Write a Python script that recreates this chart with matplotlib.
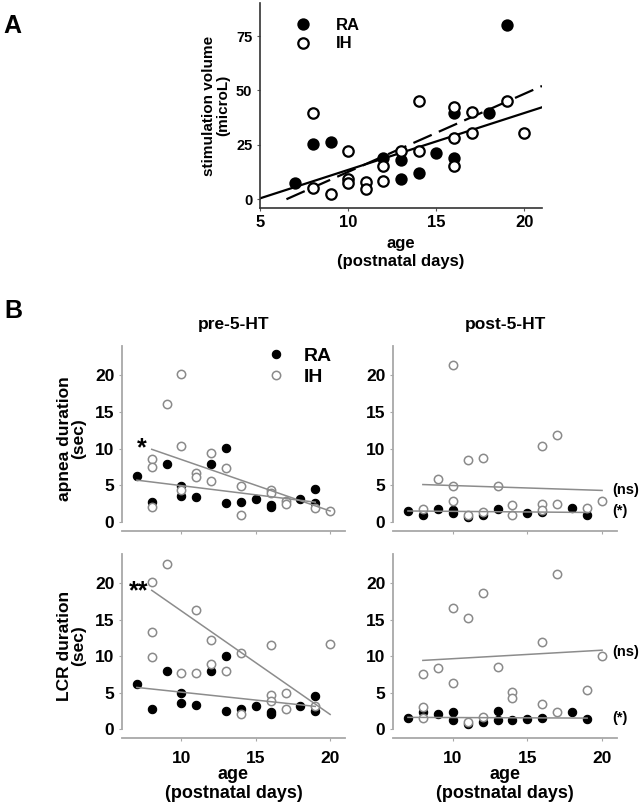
import matplotlib
matplotlib.use('Agg')
import matplotlib.pyplot as plt

plt.rcParams['font.family'] = ['Liberation Sans', 'DejaVu Sans']
plt.rcParams['font.weight'] = 'bold'
plt.rcParams['axes.labelweight'] = 'bold'

# ---------------- Panel A data: stimulation volume vs age ----------------
A_RA_age = [7, 8, 9, 12, 13, 13, 14, 15, 16, 16, 18, 19]
A_RA_vol = [7.5, 25.3, 26.1, 18.7, 17.9, 9.0, 12.1, 21.0, 39.7, 18.7, 39.7, 80.1]
A_IH_age = [8, 8, 9, 10, 10, 10, 11, 11, 12, 12, 13, 14, 14, 16, 16, 16, 17, 17, 19, 20]
A_IH_vol = [39.7, 4.9, 2.3, 22.2, 9.2, 7.2, 8.0, 4.6, 15.2, 8.3, 22.2, 45.1, 22.2,
            42.2, 28.2, 15.2, 39.9, 30.5, 45.1, 30.2]
A_RA_fit_x = [5, 21]
A_RA_fit_y = [0.3, 42.2]
A_IH_fit_x = [6.5, 21]
A_IH_fit_y = [-0.1, 52.0]
A_xticks = [5, 10, 15, 20]
A_yticks = [0, 25, 50, 75]

# ---------------- Panel B data ----------------
# apnea duration, pre-5-HT
ap_pre_RA_age = [7, 8, 9, 10, 10, 11, 12, 13, 13, 14, 15, 16, 16, 18, 19, 19]
ap_pre_RA_val = [6.2, 2.7, 7.9, 4.9, 3.5, 3.4, 7.9, 10.1, 2.6, 2.7, 3.1, 2.3, 2.0, 3.1, 4.5, 2.6]
ap_pre_IH_age = [8, 8, 8, 9, 10, 10, 10, 11, 11, 12, 12, 13, 14, 14, 16, 16, 17, 17, 19, 20]
ap_pre_IH_val = [8.6, 7.5, 2.1, 16.1, 20.2, 10.4, 4.3, 6.7, 6.1, 9.4, 5.6, 7.4, 4.9, 1.0,
                 4.4, 3.9, 2.9, 2.5, 1.9, 1.5]
ap_pre_RA_fit = ([7, 19], [5.7, 2.7])
ap_pre_IH_fit = ([8, 20], [9.9, 1.5])

# apnea duration, post-5-HT
ap_post_RA_age = [7, 8, 9, 10, 10, 11, 12, 13, 15, 16, 18, 19]
ap_post_RA_val = [1.5, 0.9, 1.8, 1.7, 1.2, 0.66, 1.0, 1.8, 1.2, 1.35, 1.9, 1.0]
ap_post_IH_age = [8, 9, 10, 10, 10, 11, 11, 12, 12, 13, 14, 14, 16, 16, 16, 17, 17, 19, 20]
ap_post_IH_val = [1.8, 5.8, 21.4, 4.9, 2.8, 8.5, 0.9, 8.7, 1.4, 4.9, 2.3, 1.0,
                  10.4, 2.5, 1.7, 11.9, 2.4, 1.9, 2.8]
ap_post_RA_fit = ([7, 19], [1.5, 1.3])
ap_post_IH_fit = ([8, 20], [5.1, 4.3])

# LCR duration, pre-5-HT
lcr_pre_RA_age = [7, 8, 9, 10, 10, 11, 12, 13, 13, 14, 15, 16, 16, 18, 19, 19]
lcr_pre_RA_val = [6.2, 2.8, 7.9, 4.9, 3.5, 3.3, 7.95, 10.0, 2.5, 2.7, 3.1, 2.4, 2.1, 3.1, 4.5, 2.5]
lcr_pre_IH_age = [8, 8, 8, 9, 10, 11, 11, 12, 12, 13, 14, 14, 16, 16, 16, 17, 17, 19, 20]
lcr_pre_IH_val = [20.1, 13.3, 9.9, 22.6, 7.7, 16.3, 7.7, 12.2, 8.9, 7.95, 10.4, 2.0,
                  11.5, 4.7, 3.9, 4.9, 2.7, 3.1, 11.7]
lcr_pre_RA_fit = ([7, 19], [5.7, 3.1])
lcr_pre_IH_fit = ([8, 20], [19.0, 2.0])

# LCR duration, post-5-HT
lcr_post_RA_age = [7, 8, 9, 10, 10, 11, 12, 13, 13, 14, 15, 16, 18, 19]
lcr_post_RA_val = [1.5, 2.3, 2.0, 2.3, 1.3, 0.7, 0.95, 2.5, 1.3, 1.2, 1.4, 1.5, 2.4, 1.4]
lcr_post_IH_age = [8, 8, 8, 9, 10, 10, 11, 11, 12, 12, 13, 14, 14, 16, 16, 17, 17, 19, 20]
lcr_post_IH_val = [7.6, 3.0, 1.5, 8.3, 16.6, 6.3, 15.2, 0.95, 18.6, 1.7, 8.5, 5.1, 4.2,
                   11.9, 3.4, 21.2, 2.4, 5.4, 10.0]
lcr_post_RA_fit = ([7, 19], [1.6, 1.5])
lcr_post_IH_fit = ([8, 20], [9.4, 10.8])

B_xticks = [10, 15, 20]
B_yticks = [0, 5, 10, 15, 20]

# ---------------- figure ----------------
W, H = 639, 806
fig = plt.figure(figsize=(W / 100, H / 100), dpi=100)


def rect(l, t, r, b):
    return [l / W, 1 - b / H, (r - l) / W, (b - t) / H]


# ---- Panel A ----
axA = fig.add_axes(rect(260, 3.4, 542, 207.7))
axA.plot(A_RA_fit_x, A_RA_fit_y, color='black', lw=1.6, zorder=2)
axA.plot(A_IH_fit_x, A_IH_fit_y, color='black', lw=1.6, dashes=(9, 3.5), zorder=2)
axA.plot(A_RA_age, A_RA_vol, 'o', ms=7.5, mfc='black', mec='black', mew=1.4, zorder=3, label='RA')
axA.plot(A_IH_age, A_IH_vol, 'o', ms=7.5, mfc='white', mec='black', mew=1.6, zorder=4, label='IH')
axA.set_xlim(5, 21)
axA.set_ylim(-4, 90)
axA.set_xticks(A_xticks)
axA.set_yticks(A_yticks)
for s in ['top', 'right']:
    axA.spines[s].set_visible(False)
for s in ['left', 'bottom']:
    axA.spines[s].set_color('#333333')
    axA.spines[s].set_linewidth(1.2)
axA.tick_params(axis='y', labelsize=10.5, length=2.5, width=0.8, color='#555555', pad=3)
axA.tick_params(axis='x', labelsize=12, length=2.5, width=0.8, color='#555555', pad=3)
axA.set_xlabel('age\n(postnatal days)', fontsize=12, labelpad=4, linespacing=1.3)
axA.set_ylabel('stimulation volume\n(microL)', fontsize=11, labelpad=4, linespacing=1.0)
axA.legend(loc='upper left', bbox_to_anchor=(0.08, 0.985), frameon=False, fontsize=12,
           handlelength=1.0, handletextpad=1.5, labelspacing=0.2, borderpad=0.2)

fig.text(12 / W, 1 - 26 / H, 'A', fontsize=18, fontweight='bold', ha='center', va='center')
fig.text(13 / W, 1 - 311 / H, 'B', fontsize=18, fontweight='bold', ha='center', va='center')

# ---- Panel B ----
gray_spine = '#a8a8a8'
line_gray = '#8c8c8c'
ih_edge = '#8a8a8a'


def style_b(ax, show_xlabels):
    ax.set_xlim(6, 21)
    ax.set_ylim(-1.2, 24)
    ax.set_xticks(B_xticks)
    ax.set_yticks(B_yticks)
    for s in ['top', 'right']:
        ax.spines[s].set_visible(False)
    for s in ['left', 'bottom']:
        ax.spines[s].set_color(gray_spine)
        ax.spines[s].set_linewidth(1.3)
    ax.spines['left'].set_bounds(0, 24)
    ax.tick_params(axis='y', labelsize=12.5, length=2.5, width=0.8, color=gray_spine, pad=3)
    ax.tick_params(axis='x', labelsize=12.5, length=2.5, width=0.8, color=gray_spine, pad=7,
                   labelbottom=show_xlabels)


def draw_b(ax, ra_age, ra_val, ih_age, ih_val, ra_fit, ih_fit, show_xlabels):
    ax.plot(ra_age, ra_val, 'o', ms=6, mfc='black', mec='black', mew=0.8, zorder=3, label='RA')
    ax.plot(ih_age, ih_val, 'o', ms=6, mfc='white', mec=ih_edge, mew=1.1, zorder=4, label='IH')
    ax.plot(*ra_fit, color=line_gray, lw=1.1, zorder=5)
    ax.plot(*ih_fit, color=line_gray, lw=1.1, zorder=5)
    style_b(ax, show_xlabels)


axTL = fig.add_axes(rect(122, 345.8, 345, 530.8))
axTR = fig.add_axes(rect(393, 345.8, 617, 530.8))
axBL = fig.add_axes(rect(122, 553.8, 345, 737.8))
axBR = fig.add_axes(rect(393, 553.8, 617, 737.8))

draw_b(axTL, ap_pre_RA_age, ap_pre_RA_val, ap_pre_IH_age, ap_pre_IH_val, ap_pre_RA_fit, ap_pre_IH_fit, False)
draw_b(axTR, ap_post_RA_age, ap_post_RA_val, ap_post_IH_age, ap_post_IH_val, ap_post_RA_fit, ap_post_IH_fit, False)
draw_b(axBL, lcr_pre_RA_age, lcr_pre_RA_val, lcr_pre_IH_age, lcr_pre_IH_val, lcr_pre_RA_fit, lcr_pre_IH_fit, True)
draw_b(axBR, lcr_post_RA_age, lcr_post_RA_val, lcr_post_IH_age, lcr_post_IH_val, lcr_post_RA_fit, lcr_post_IH_fit, True)

axTL.set_title('pre-5-HT', fontsize=12.5, fontweight='bold', pad=12)
axTR.set_title('post-5-HT', fontsize=12.5, fontweight='bold', pad=12)
axTL.set_ylabel('apnea duration\n(sec)', fontsize=12.5, labelpad=6, linespacing=1.0)
axBL.set_ylabel('LCR duration\n(sec)', fontsize=12.5, labelpad=6, linespacing=1.0)
axBL.set_xlabel('age\n(postnatal days)', fontsize=13, labelpad=0, linespacing=1.15)
axBR.set_xlabel('age\n(postnatal days)', fontsize=13, labelpad=0, linespacing=1.15)

axTL.legend(loc='upper left', bbox_to_anchor=(0.59, 1.065), frameon=False, fontsize=14,
            handlelength=0.9, handletextpad=1.0, labelspacing=0.15, borderpad=0.2,
            markerscale=1.0)

axTL.text(7.35, 10.0, '*', fontsize=18, fontweight='bold', ha='center', va='center')
axBL.text(7.1, 18.9, '**', fontsize=18, fontweight='bold', ha='center', va='center')
axTR.text(20.7, 4.3, '(ns)', fontsize=10.5, fontweight='bold', ha='left', va='center', clip_on=False)
axTR.text(20.7, 1.5, '(*)', fontsize=10.5, fontweight='bold', ha='left', va='center', clip_on=False)
axBR.text(20.7, 10.6, '(ns)', fontsize=10.5, fontweight='bold', ha='left', va='center', clip_on=False)
axBR.text(20.7, 1.5, '(*)', fontsize=10.5, fontweight='bold', ha='left', va='center', clip_on=False)

fig.savefig('out.png', dpi=100)
